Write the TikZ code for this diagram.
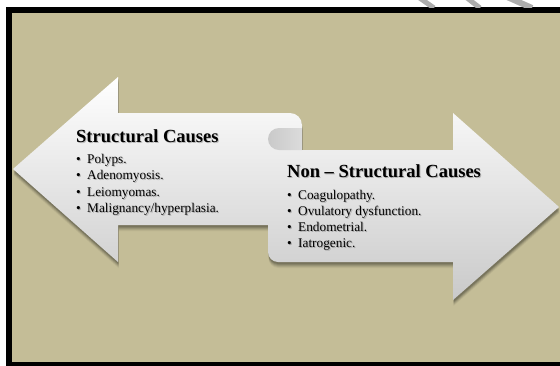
\documentclass[tikz,border=0pt]{standalone}
\usepackage{fontspec}
\setmainfont{Liberation Serif}
\definecolor{bgtan}{HTML}{C4BD97}
\newcommand\ribbonpath{(13,169) -- (118,77) -- (118,113) -- (290,113)
 .. controls (296.6,113) and (302,118.4) .. (302,125) -- (302,150) -- (453,150)
 -- (453,113) -- (559,207) -- (453,300) -- (453,262) -- (278,262)
 .. controls (272.5,262) and (268,257.5) .. (268,252) -- (268,225) -- (118,225)
 -- (118,262) -- cycle}
\tikzset{
  ttl/.style={anchor=base west, inner sep=0pt, font=\fontsize{18.5}{20}\selectfont\bfseries},
  itm/.style={anchor=base west, inner sep=0pt, font=\fontsize{13.3}{15}\selectfont},
  tshadow/.style={text=black, opacity=0.22}
}
\newcommand\bl[1]{\makebox[11pt][l]{\textbullet}#1}
\begin{document}
\begin{tikzpicture}[x=1pt,y=-1pt]
\useasboundingbox (0,0) rectangle (560,365);
% frame
\fill[black] (6,7) rectangle (580,372);
\fill[bgtan] (12,13) rectangle (580,362);
% faint strokes above the frame
\begin{scope}
  \clip (0,0) rectangle (560,7);
  \draw[gray!65, line width=5pt] (414,-6) -- (434,8);
  \draw[gray!65, line width=5pt] (462,-6) -- (480,8);
  \draw[gray!65, line width=6pt] (496,-8) -- (532,8);
\end{scope}
% shadow
\foreach \d/\a in {6/0.05,5/0.07,4/0.09,3/0.11,2/0.13}{
  \fill[black, opacity=\a, shift={(0.5,\d)}] \ribbonpath;
}
% ribbon
\shade[top color=white, middle color=gray!6, bottom color=gray!42] \ribbonpath;
% curl
\shade[left color=gray!42, right color=gray!28]
  (302,128) -- (279,128) .. controls (272.9,128) and (268,132.9) .. (268,139)
  .. controls (268,145.1) and (272.9,150) .. (279,150) -- (302,150) -- cycle;
% text shadows
\begin{scope}[shift={(1,1.5)}]
  \node[ttl, tshadow] (s1) at (76,142) {Structural Causes};
  \node[itm, tshadow] (s2) at (76,163) {\bl{Polyps.}};
  \node[itm, tshadow] (s3) at (76,179) {\bl{Adenomyosis.}};
  \node[itm, tshadow] (s4) at (76,196) {\bl{Leiomyomas.}};
  \node[itm, tshadow] (s5) at (76,212) {\bl{Malignancy/hyperplasia.}};
  \node[ttl, tshadow] (s6) at (287,177) {Non -- Structural Causes};
  \node[itm, tshadow] (s7) at (287,199) {\bl{Coagulopathy.}};
  \node[itm, tshadow] (s8) at (287,215) {\bl{Ovulatory dysfunction.}};
  \node[itm, tshadow] (s9) at (287,231) {\bl{Endometrial.}};
  \node[itm, tshadow] (s10) at (287,247) {\bl{Iatrogenic.}};
\end{scope}
% text
\node[ttl] (lt) at (76,142) {Structural Causes};
\node[itm] (l1) at (76,163) {\bl{Polyps.}};
\node[itm] (l2) at (76,179) {\bl{Adenomyosis.}};
\node[itm] (l3) at (76,196) {\bl{Leiomyomas.}};
\node[itm] (l4) at (76,212) {\bl{Malignancy/hyperplasia.}};
\node[ttl] (rt) at (287,177) {Non -- Structural Causes};
\node[itm] (r1) at (287,199) {\bl{Coagulopathy.}};
\node[itm] (r2) at (287,215) {\bl{Ovulatory dysfunction.}};
\node[itm] (r3) at (287,231) {\bl{Endometrial.}};
\node[itm] (r4) at (287,247) {\bl{Iatrogenic.}};
\end{tikzpicture}
\end{document}
